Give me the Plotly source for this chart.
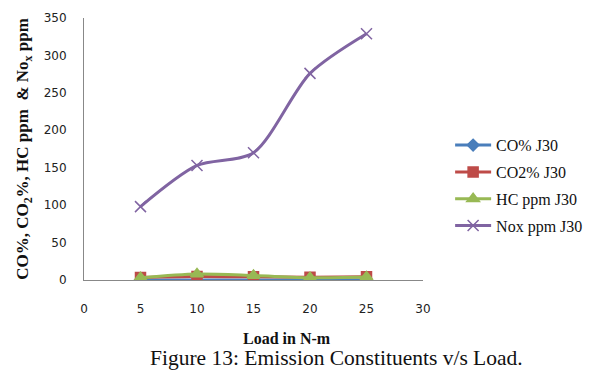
import plotly.graph_objects as go

# Engine load (N-m)
load = [5, 10, 15, 20, 25]

# Emission readings for J30
co_pct = [0.1, 0.15, 0.12, 0.1, 0.08]
co2_pct = [3.5, 4.6, 4.2, 3.8, 4.5]
hc_ppm = [3, 8, 6, 3, 4]
nox_ppm = [98, 153, 170, 276, 329]

series = [
    ("CO% J30", co_pct, "#4A7EBB", "diamond", 9),
    ("CO2% J30", co2_pct, "#BE4B48", "square", 10),
    ("HC ppm J30", hc_ppm, "#98B954", "triangle-up", 11),
    ("Nox ppm J30", nox_ppm, "#8064A2", "x-thin", 11),
]

fig = go.Figure()
for i, (name, vals, color, sym, size) in enumerate(series):
    fig.add_trace(go.Scatter(
        x=load, y=vals, name=name, mode="lines+markers",
        line=dict(color=color, width=3, shape="spline", smoothing=0.8),
        marker=dict(symbol=sym, size=size, color=color,
                    line=dict(color=color, width=1.5)),
        legendgroup=f"g{i}",
    ))

serif = "Liberation Serif"
tickfont = dict(family="DejaVu Sans", size=12, color="#222")

fig.update_layout(
    width=600, height=371,
    margin=dict(l=84, r=175, t=18, b=91),
    paper_bgcolor="white", plot_bgcolor="white",
    showlegend=True,
    legend=dict(
        x=1.08, y=0.36, xanchor="left", yanchor="middle",
        font=dict(family=serif, size=16, color="#111"),
        tracegroupgap=3, itemwidth=36,
    ),
    xaxis=dict(
        range=[0, 30], tickvals=[0, 5, 10, 15, 20, 25, 30],
        showgrid=False, zeroline=False,
        showline=True, linecolor="#888", linewidth=1,
        ticks="", tickfont=tickfont, ticklabelstandoff=18,
    ),
    yaxis=dict(
        range=[0, 350], tickvals=list(range(0, 351, 50)),
        showgrid=False, zeroline=False,
        showline=True, linecolor="#888", linewidth=1,
        ticks="", tickfont=tickfont, ticklabelstandoff=14,
        title=dict(text="<b>CO%, CO<sub>2</sub>%, HC ppm  & No<sub>x</sub> ppm</b>",
                   standoff=10,
                   font=dict(family=serif, size=17, color="#111")),
    ),
    annotations=[
        dict(text="<b>Load in N-m</b>",
             xref="paper", yref="paper", x=0.598, y=-0.225,
             xanchor="center", yanchor="middle", showarrow=False,
             font=dict(family=serif, size=16, color="#111")),
        dict(text="Figure 13: Emission Constituents v/s Load.",
             xref="paper", yref="paper", x=0.745, y=-0.298,
             xanchor="center", yanchor="middle", showarrow=False,
             font=dict(family=serif, size=21.5, color="#111")),
    ],
)

fig.write_html("out.html")
